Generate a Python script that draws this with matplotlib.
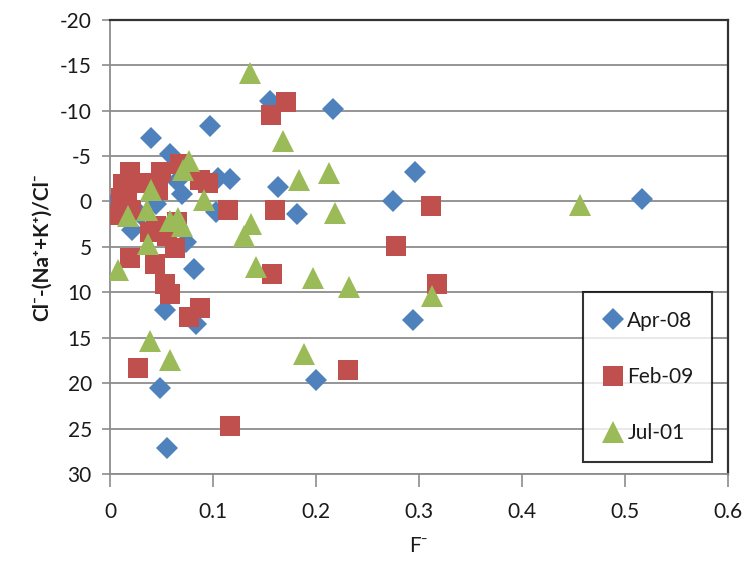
import matplotlib

matplotlib.use("Agg")

import matplotlib.pyplot as plt

plt.rcParams["font.family"] = ["Lato", "DejaVu Sans"]
plt.rcParams["axes.unicode_minus"] = False

# Apr-08 series (F-, charge balance %)
apr_x = [0.040, 0.097, 0.058, 0.155, 0.217, 0.296, 0.275, 0.517, 0.163, 0.182,
         0.105, 0.117, 0.103, 0.082, 0.053, 0.084, 0.049, 0.055, 0.294, 0.200,
         0.005, 0.021, 0.045, 0.074, 0.065, 0.030, 0.070]
apr_y = [-7.0, -8.3, -5.2, -11.0, -10.2, -3.2, -0.1, -0.3, -1.6, 1.4,
         -2.6, -2.5, 1.2, 7.4, 11.9, 13.5, 20.5, 27.1, 13.0, 19.7,
         0.0, 3.1, 0.3, 4.5, -2.2, 1.5, -0.8]

# Feb-09 series
feb_x = [0.156, 0.171, 0.019, 0.013, 0.011, 0.017, 0.020, 0.019, 0.050, 0.047,
         0.068, 0.039, 0.063, 0.044, 0.053, 0.058, 0.087, 0.077, 0.027, 0.117,
         0.157, 0.095, 0.115, 0.160, 0.278, 0.312, 0.318, 0.231, 0.087, 0.065,
         0.055, 0.045, 0.030, 0.010]
feb_y = [-9.5, -10.9, -3.2, -1.9, -0.4, -1.3, 0.9, 6.2, -3.2, -1.3,
         -4.1, 3.4, 5.1, 6.9, 9.1, 10.2, 11.7, 12.7, 18.3, 24.7,
         8.0, -2.05, 0.9, 0.9, 4.9, 0.45, 9.1, 18.5, -2.4, 2.3,
         3.8, 2.7, -2.0, 1.5]

# Jul-01 series
jul_x = [0.136, 0.168, 0.184, 0.213, 0.219, 0.456, 0.313, 0.197, 0.232, 0.188,
         0.142, 0.130, 0.137, 0.077, 0.071, 0.040, 0.091, 0.018, 0.036, 0.058,
         0.066, 0.070, 0.037, 0.008, 0.039, 0.058]
jul_y = [-14.1, -6.6, -2.4, -3.1, 1.3, 0.4, 10.4, 8.4, 9.4, 16.8,
         7.2, 3.8, 2.5, -4.4, -3.5, -1.3, -0.2, 1.6, 0.9, 2.2,
         1.8, 2.7, 4.7, 7.5, 15.4, 17.5]

x_ticks = [0, 0.1, 0.2, 0.3, 0.4, 0.5, 0.6]
x_labels = ["0", "0.1", "0.2", "0.3", "0.4", "0.5", "0.6"]
y_ticks = [-20, -15, -10, -5, 0, 5, 10, 15, 20, 25, 30]

fig = plt.figure(figsize=(7.48, 5.63), dpi=100)
ax = fig.add_axes([0.147, 0.158, 0.826, 0.807])

grid_color = "#8c8c8c"
ax.set_xlim(0, 0.6)
ax.set_ylim(30, -20)
ax.set_yticks(y_ticks)
for yv in y_ticks:
    ax.axhline(yv, color=grid_color, linewidth=1.3, zorder=0)

ax.plot(apr_x, apr_y, "D", color="#4f81bd", markersize=11, markeredgewidth=0,
        linestyle="none", label="Apr-08", zorder=3)
ax.plot(feb_x, feb_y, "s", color="#c0504d", markersize=15, markeredgewidth=0,
        linestyle="none", label="Feb-09", zorder=4)
ax.plot(jul_x, jul_y, "^", color="#9bbb59", markersize=16, markeredgewidth=0,
        linestyle="none", label="Jul-01", zorder=5)

ax.set_xticks(x_ticks)
ax.set_xticklabels(x_labels)
ax.tick_params(axis="both", labelsize=15, colors="#404040", labelcolor="#1a1a1a")
ax.tick_params(axis="x", direction="out", length=9, width=1.2, color=grid_color, pad=11)
ax.tick_params(axis="y", direction="out", length=6, width=1.2, color=grid_color, pad=7)

ax.spines["left"].set_color(grid_color)
ax.spines["left"].set_linewidth(1.3)
ax.spines["bottom"].set_color(grid_color)
ax.spines["bottom"].set_linewidth(1.3)
ax.spines["top"].set_color("#333333")
ax.spines["top"].set_linewidth(1.6)
ax.spines["right"].set_color("#333333")
ax.spines["right"].set_linewidth(1.6)

ax.set_ylabel("Cl⁻-(Na⁺+K⁺)/Cl⁻", fontsize=15, fontweight="bold", color="#1a1a1a", labelpad=6)
ax.set_xlabel("F⁻", fontsize=15, color="#1a1a1a", labelpad=10)

leg = ax.legend(loc="lower left", bbox_to_anchor=(0.765, 0.026), fontsize=15,
                frameon=True, fancybox=False, edgecolor="black", labelspacing=1.75,
                handletextpad=0.15, handlelength=1.1, borderpad=0.9, borderaxespad=0)
leg.get_frame().set_linewidth(1.5)
for text in leg.get_texts():
    text.set_color("#1a1a1a")

fig.savefig("out.png", dpi=100)
